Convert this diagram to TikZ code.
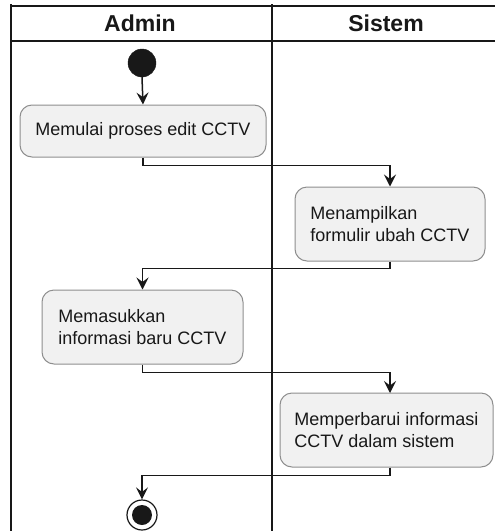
\documentclass[tikz,border=0pt]{standalone}
\usepackage{fontspec}
\setmainfont{Liberation Sans}
\usetikzlibrary{arrows.meta,calc}
\definecolor{linecol}{HTML}{181818}
\definecolor{boxfill}{HTML}{F1F1F1}
\definecolor{boxline}{HTML}{8E8E8E}
\tikzset{
  lane/.style={draw=linecol, line width=2pt},
  lanetitle/.style={font=\bfseries\fontsize{23}{27}\selectfont, text=linecol},
  action/.style={draw=boxline, fill=boxfill, line width=1pt, rounded corners=12pt,
    align=left, inner sep=0pt, font=\fontsize{18}{22}\selectfont, text=linecol},
  flow/.style={draw=linecol, line width=1.5pt,
    -{Stealth[length=12pt,width=12pt,inset=4.5pt]}},
  startdot/.style={circle, fill=linecol, draw=linecol, minimum size=28pt, inner sep=0pt},
}
\begin{document}
\begin{tikzpicture}[x=1pt,y=-1pt]
  \useasboundingbox (0,0) rectangle (495,531);

  % swimlane frame
  \draw[lane] (11,6) -- (495,6);
  \draw[lane] (11,41) -- (495,41);
  \draw[lane] (11,4) -- (11,531);
  \draw[lane] (272,4) -- (272,531);
  \node[lanetitle] (tadmin) at (140,23) {Admin};
  \node[lanetitle] (tsistem) at (386,23) {Sistem};

  % start
  \node[startdot] (start) at (142,63) {};

  % actions
  \node[action, minimum width=246pt, minimum height=52pt] (b1) at (143,131)
    {Memulai proses edit CCTV};
  \node[action, minimum width=190pt, minimum height=74pt] (b2) at (390,224)
    {Menampilkan\\formulir ubah CCTV};
  \node[action, minimum width=201pt, minimum height=74pt] (b3) at (142.5,327)
    {Memasukkan\\informasi baru CCTV};
  \node[action, minimum width=213pt, minimum height=74pt] (b4) at (386.5,430)
    {Memperbarui informasi\\CCTV dalam sistem};

  % end
  \node[circle, draw=linecol, fill=white, line width=1.2pt, minimum size=30pt, inner sep=0pt]
    (stop) at (142,515) {};
  \node[circle, fill=linecol, minimum size=20pt, inner sep=0pt] (stopdot) at (stop.center) {};

  % control flow
  \coordinate (j1) at ($(b1.south)+(0,8)$);
  \coordinate (j2) at ($(b2.south)+(0,7)$);
  \coordinate (j3) at ($(b3.south)+(0,8)$);
  \coordinate (j4) at ($(b4.south)+(0,8)$);
  \draw[flow] (start.south) -- (b1.north);
  \draw[flow] (b1.south) -- (j1) -| (b2.north);
  \draw[flow] (b2.south) -- (j2) -| (b3.north);
  \draw[flow] (b3.south) -- (j3) -| (390,393);
  \draw[flow] (b4.south -| 390,0) -- (j4 -| 390,0) -| (stop.north);
\end{tikzpicture}
\end{document}
